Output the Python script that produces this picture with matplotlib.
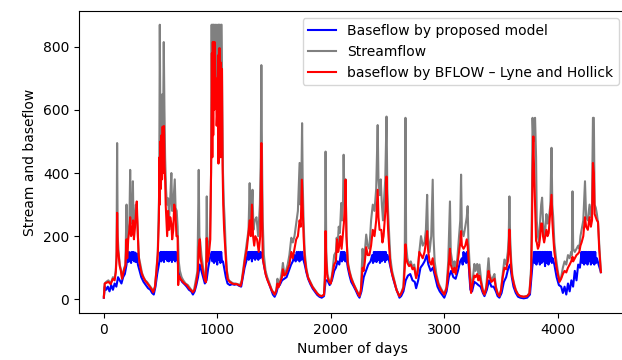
import matplotlib
matplotlib.use("Agg")
import matplotlib.pyplot as plt

# (day, value) pairs
streamflow = [
    (0, 10), (8, 50), (20, 55), (40, 60), (60, 50), (80, 70), (95, 65), (105, 90),
    (112, 150), (117, 495), (122, 200), (130, 150), (140, 110), (150, 95), (160, 70),
    (170, 85), (180, 100), (190, 110), (200, 300), (206, 150), (215, 210), (225, 240),
    (232, 410), (238, 240), (248, 260), (256, 374), (262, 230), (272, 250), (282, 300),
    (290, 280), (300, 200), (310, 130), (322, 110), (335, 85), (350, 70), (365, 60),
    (380, 55), (400, 45), (420, 35), (435, 25), (450, 40), (463, 90), (475, 150),
    (488, 350), (493, 870), (498, 550), (504, 600), (510, 500), (516, 650), (522, 550),
    (528, 815), (534, 600), (540, 450), (548, 350), (556, 300), (566, 320), (575, 260),
    (585, 320), (595, 400), (602, 280), (612, 300), (625, 380), (632, 290), (642, 280),
    (650, 230), (660, 120), (670, 90), (685, 70), (700, 60), (720, 50), (740, 45),
    (760, 35), (780, 25), (795, 30), (810, 60), (825, 90), (836, 410), (842, 200),
    (850, 180), (860, 140), (875, 100), (890, 70), (900, 60), (907, 326), (912, 150),
    (922, 160), (935, 200), (945, 400), (950, 870), (954, 600), (958, 870), (962, 700),
    (966, 870), (972, 870), (978, 750), (984, 870), (990, 650), (996, 870), (1002, 700),
    (1008, 870), (1014, 870), (1020, 870), (1026, 650), (1032, 870), (1038, 870),
    (1044, 600), (1050, 400), (1058, 300), (1065, 250), (1075, 150), (1085, 90),
    (1100, 60), (1120, 55), (1140, 50), (1160, 50), (1180, 48), (1200, 45), (1215, 60),
    (1230, 100), (1245, 140), (1260, 180), (1275, 220), (1285, 368), (1292, 240),
    (1300, 260), (1310, 347), (1318, 220), (1330, 250), (1345, 260), (1360, 200),
    (1375, 300), (1383, 450), (1388, 742), (1393, 480), (1400, 250), (1410, 140),
    (1425, 90), (1440, 70), (1460, 50), (1480, 30), (1505, 15), (1520, 30), (1530, 65),
    (1540, 40), (1555, 60), (1570, 90), (1578, 115), (1590, 80), (1605, 90), (1620, 110),
    (1635, 140), (1652, 195), (1665, 180), (1680, 200), (1695, 240), (1710, 280),
    (1725, 432), (1732, 300), (1740, 350), (1747, 558), (1752, 380), (1760, 250),
    (1770, 150), (1784, 100), (1800, 70), (1820, 55), (1840, 40), (1860, 30), (1880, 20),
    (1900, 12), (1920, 10), (1940, 15), (1948, 80), (1954, 468), (1960, 150), (1970, 80),
    (1985, 60), (2000, 50), (2015, 90), (2030, 140), (2045, 150), (2052, 195), (2060, 170),
    (2070, 230), (2080, 210), (2092, 305), (2100, 250), (2107, 300), (2113, 458),
    (2120, 320), (2130, 380), (2138, 200), (2150, 120), (2165, 90), (2180, 70), (2200, 50),
    (2220, 35), (2240, 20), (2253, 10), (2265, 30), (2280, 160), (2290, 100), (2300, 150),
    (2312, 205), (2325, 170), (2340, 160), (2355, 250), (2370, 300), (2385, 280),
    (2400, 350), (2413, 552), (2420, 380), (2430, 330), (2440, 380), (2450, 300),
    (2460, 250), (2470, 320), (2480, 380), (2491, 579), (2498, 350), (2505, 280),
    (2515, 200), (2525, 130), (2540, 90), (2560, 60), (2580, 30), (2605, 10), (2620, 20),
    (2640, 40), (2652, 150), (2658, 575), (2664, 170), (2675, 130), (2690, 110),
    (2705, 120), (2720, 100), (2735, 110), (2752, 70), (2765, 90), (2780, 150),
    (2795, 200), (2810, 170), (2826, 180), (2838, 220), (2849, 331), (2856, 200),
    (2870, 150), (2885, 200), (2898, 379), (2905, 200), (2915, 120), (2930, 80),
    (2950, 50), (2970, 35), (3000, 15), (3020, 40), (3035, 120), (3050, 310), (3057, 150),
    (3070, 120), (3080, 100), (3090, 120), (3100, 90), (3115, 130), (3130, 200),
    (3141, 250), (3148, 395), (3155, 220), (3170, 200), (3185, 230), (3198, 260),
    (3206, 295), (3213, 180), (3225, 100), (3236, 40), (3250, 60), (3265, 112), (3275, 90),
    (3290, 112), (3300, 80), (3310, 110), (3325, 60), (3340, 30), (3354, 15), (3370, 40),
    (3390, 130), (3400, 80), (3415, 60), (3430, 70), (3442, 80), (3455, 40), (3470, 20),
    (3486, 10), (3500, 30), (3515, 80), (3530, 126), (3545, 110), (3560, 150), (3568, 200),
    (3574, 326), (3580, 200), (3590, 120), (3600, 75), (3615, 50), (3630, 30), (3650, 15),
    (3670, 10), (3700, 8), (3730, 10), (3750, 20), (3765, 100), (3772, 300), (3778, 575),
    (3785, 500), (3792, 560), (3800, 575), (3809, 450), (3815, 250), (3825, 200),
    (3835, 180), (3845, 250), (3854, 300), (3862, 322), (3870, 250), (3880, 200),
    (3890, 220), (3900, 270), (3910, 240), (3920, 250), (3935, 300), (3945, 480),
    (3952, 300), (3960, 260), (3970, 180), (3985, 130), (4000, 90), (4015, 60), (4030, 70),
    (4045, 100), (4060, 120), (4075, 110), (4090, 140), (4105, 130), (4118, 150),
    (4124, 140), (4130, 342), (4136, 160), (4150, 150), (4165, 160), (4180, 170),
    (4190, 160), (4200, 200), (4210, 220), (4225, 250), (4240, 374), (4250, 260),
    (4265, 250), (4280, 300), (4292, 260), (4302, 300), (4310, 575), (4318, 575),
    (4325, 300), (4335, 290), (4345, 270), (4355, 240), (4365, 180), (4380, 86),
]

baseflow_bflow = [
    (0, 5), (8, 50), (20, 52), (40, 55), (60, 48), (80, 65), (95, 60), (105, 85),
    (112, 130), (117, 274), (123, 160), (130, 140), (140, 105), (150, 90), (160, 65),
    (170, 80), (180, 95), (190, 105), (200, 190), (206, 130), (215, 190), (225, 220),
    (232, 260), (240, 200), (250, 210), (258, 250), (265, 190), (275, 230), (285, 280),
    (290, 310), (298, 220), (305, 150), (312, 120), (322, 100), (335, 80), (350, 68),
    (365, 58), (380, 52), (400, 42), (420, 32), (435, 22), (450, 38), (463, 88),
    (475, 140), (485, 250), (490, 450), (494, 300), (498, 500), (503, 350), (508, 520),
    (513, 380), (518, 547), (523, 400), (530, 549), (535, 420), (540, 380), (545, 300),
    (550, 260), (558, 200), (566, 280), (575, 220), (585, 260), (595, 240), (602, 190),
    (612, 220), (620, 300), (630, 280), (640, 200), (650, 200), (655, 45), (662, 75),
    (675, 65), (690, 58), (710, 50), (730, 45), (750, 35), (770, 28), (785, 22), (800, 30),
    (815, 55), (828, 85), (836, 164), (845, 190), (852, 130), (862, 110), (875, 85),
    (890, 60), (900, 54), (907, 194), (913, 120), (925, 140), (938, 190), (948, 500),
    (952, 780), (956, 450), (960, 815), (964, 520), (968, 815), (972, 600), (977, 815),
    (982, 650), (988, 700), (994, 550), (1000, 600), (1006, 773), (1010, 430),
    (1015, 795), (1019, 500), (1023, 795), (1028, 450), (1032, 750), (1036, 500),
    (1041, 730), (1046, 425), (1052, 300), (1060, 220), (1068, 170), (1075, 130),
    (1080, 100), (1090, 65), (1110, 55), (1130, 50), (1150, 48), (1170, 48), (1190, 45),
    (1205, 42), (1215, 55), (1230, 90), (1245, 130), (1260, 160), (1272, 200), (1285, 250),
    (1295, 200), (1305, 300), (1315, 200), (1325, 170), (1335, 200), (1350, 190),
    (1365, 150), (1378, 200), (1388, 495), (1395, 300), (1400, 130), (1410, 110),
    (1425, 80), (1440, 62), (1460, 45), (1480, 28), (1505, 15), (1520, 28), (1530, 50),
    (1540, 38), (1555, 55), (1570, 70), (1578, 95), (1590, 75), (1605, 80), (1620, 95),
    (1635, 110), (1652, 150), (1665, 130), (1680, 160), (1695, 190), (1710, 200),
    (1725, 250), (1735, 230), (1745, 379), (1752, 300), (1760, 200), (1770, 130),
    (1784, 92), (1800, 68), (1820, 52), (1840, 38), (1860, 28), (1880, 18), (1900, 12),
    (1920, 10), (1940, 14), (1948, 60), (1954, 216), (1960, 120), (1970, 70), (1985, 55),
    (2000, 50), (2015, 80), (2030, 110), (2045, 120), (2055, 190), (2065, 150),
    (2075, 170), (2085, 200), (2095, 160), (2105, 200), (2115, 240), (2125, 300),
    (2130, 379), (2138, 200), (2150, 110), (2165, 85), (2180, 65), (2200, 48), (2220, 32),
    (2240, 18), (2253, 10), (2265, 28), (2280, 100), (2290, 90), (2300, 120), (2312, 165),
    (2325, 140), (2340, 140), (2355, 170), (2370, 220), (2385, 200), (2400, 250),
    (2413, 347), (2420, 260), (2430, 220), (2445, 220), (2455, 180), (2465, 200),
    (2475, 250), (2485, 300), (2491, 389), (2498, 290), (2505, 220), (2515, 160),
    (2525, 110), (2540, 80), (2560, 55), (2580, 28), (2605, 10), (2620, 18), (2640, 35),
    (2652, 100), (2658, 174), (2664, 130), (2675, 115), (2690, 105), (2705, 110),
    (2720, 95), (2735, 100), (2752, 67), (2765, 85), (2780, 150), (2795, 140), (2810, 130),
    (2826, 150), (2838, 180), (2849, 216), (2856, 160), (2870, 120), (2885, 110),
    (2898, 130), (2905, 110), (2915, 90), (2930, 70), (2950, 45), (2970, 30), (3000, 15),
    (3020, 35), (3035, 90), (3050, 160), (3057, 110), (3070, 95), (3080, 85), (3090, 100),
    (3100, 80), (3115, 110), (3130, 150), (3141, 180), (3148, 216), (3155, 170),
    (3170, 160), (3185, 170), (3198, 190), (3206, 170), (3213, 130), (3225, 70), (3236, 20),
    (3250, 50), (3265, 75), (3275, 70), (3290, 80), (3300, 60), (3310, 75), (3325, 50),
    (3340, 25), (3354, 15), (3370, 35), (3390, 90), (3400, 70), (3415, 55), (3430, 60),
    (3442, 65), (3455, 35), (3470, 18), (3486, 10), (3500, 28), (3515, 70), (3530, 100),
    (3545, 95), (3560, 120), (3568, 160), (3574, 221), (3580, 160), (3590, 100), (3600, 70),
    (3615, 45), (3630, 28), (3650, 15), (3670, 10), (3700, 8), (3730, 10), (3750, 18),
    (3765, 80), (3772, 200), (3778, 400), (3785, 516), (3792, 400), (3800, 300),
    (3809, 185), (3815, 180), (3825, 160), (3835, 170), (3845, 200), (3854, 240),
    (3862, 240), (3870, 200), (3880, 180), (3890, 200), (3900, 220), (3910, 200),
    (3920, 210), (3935, 280), (3945, 331), (3952, 250), (3960, 200), (3970, 150),
    (3985, 110), (4000, 80), (4015, 55), (4030, 65), (4045, 80), (4060, 90), (4075, 85),
    (4090, 100), (4105, 110), (4118, 120), (4130, 135), (4136, 120), (4150, 130),
    (4165, 140), (4180, 145), (4190, 150), (4200, 170), (4210, 180), (4225, 200),
    (4240, 260), (4250, 230), (4265, 220), (4280, 260), (4292, 230), (4302, 250),
    (4310, 432), (4318, 400), (4325, 270), (4335, 260), (4345, 250), (4355, 245),
    (4365, 160), (4380, 86),
]

baseflow_proposed = [
    (0, 5), (8, 40), (20, 30), (35, 40), (50, 25), (65, 45), (80, 30), (95, 50), (110, 40),
    (125, 70), (140, 60), (155, 50), (170, 70), (185, 80), (200, 110), (207, 150),
    (213, 118), (220, 150), (226, 120), (233, 148), (240, 115), (247, 150), (254, 125),
    (261, 150), (268, 120), (275, 148), (282, 118), (290, 145), (300, 110), (315, 90),
    (330, 70), (350, 55), (370, 45), (390, 35), (410, 30), (425, 20), (440, 15), (455, 40),
    (470, 80), (485, 110), (500, 150), (506, 120), (512, 150), (518, 125), (524, 150),
    (530, 118), (537, 150), (544, 128), (551, 150), (558, 122), (565, 150), (572, 120),
    (579, 150), (586, 125), (593, 150), (600, 118), (607, 150), (614, 125), (621, 150),
    (628, 120), (635, 150), (642, 125), (648, 130), (660, 90), (675, 65), (690, 55),
    (710, 48), (730, 40), (750, 30), (770, 25), (785, 15), (800, 25), (815, 45), (830, 70),
    (845, 110), (860, 90), (875, 70), (890, 50), (905, 60), (920, 100), (935, 130),
    (950, 150), (957, 120), (964, 150), (971, 115), (978, 150), (985, 120), (992, 150),
    (999, 110), (1006, 150), (1013, 125), (1020, 150), (1027, 115), (1034, 150),
    (1041, 120), (1050, 120), (1060, 100), (1075, 70), (1090, 50), (1110, 45), (1130, 48),
    (1150, 46), (1170, 48), (1190, 43), (1210, 40), (1225, 70), (1240, 100), (1255, 120),
    (1270, 150), (1277, 125), (1284, 150), (1291, 130), (1298, 150), (1305, 120),
    (1312, 150), (1319, 130), (1326, 150), (1333, 125), (1340, 150), (1347, 130),
    (1354, 150), (1361, 125), (1368, 150), (1375, 130), (1382, 150), (1390, 135),
    (1400, 130), (1415, 100), (1430, 75), (1450, 55), (1470, 35), (1490, 15), (1505, 8),
    (1520, 20), (1535, 40), (1550, 45), (1570, 60), (1590, 65), (1610, 70), (1630, 90),
    (1650, 110), (1665, 120), (1680, 140), (1690, 120), (1700, 150), (1708, 125),
    (1716, 150), (1724, 120), (1732, 150), (1740, 125), (1748, 150), (1755, 130),
    (1770, 110), (1785, 85), (1800, 65), (1820, 48), (1840, 34), (1860, 24), (1880, 14),
    (1900, 8), (1920, 5), (1940, 10), (1955, 60), (1970, 60), (1990, 45), (2010, 60),
    (2030, 90), (2045, 100), (2060, 120), (2075, 110), (2090, 150), (2098, 120),
    (2105, 150), (2112, 125), (2120, 150), (2128, 120), (2135, 140), (2150, 100),
    (2165, 75), (2180, 55), (2200, 42), (2220, 28), (2240, 12), (2253, 5), (2270, 25),
    (2290, 70), (2310, 90), (2330, 110), (2350, 120), (2365, 140), (2372, 115),
    (2380, 150), (2388, 120), (2395, 150), (2403, 118), (2410, 150), (2418, 125),
    (2425, 150), (2433, 115), (2440, 150), (2448, 120), (2455, 150), (2463, 125),
    (2470, 150), (2478, 118), (2485, 150), (2492, 125), (2500, 140), (2515, 120),
    (2530, 95), (2550, 65), (2570, 40), (2590, 20), (2605, 5), (2620, 10), (2640, 25),
    (2660, 60), (2680, 75), (2700, 80), (2720, 60), (2740, 55), (2752, 35), (2770, 60),
    (2790, 100), (2810, 110), (2826, 120), (2845, 140), (2860, 110), (2880, 90),
    (2900, 100), (2920, 70), (2940, 40), (2960, 25), (2980, 15), (3000, 5), (3020, 25),
    (3040, 70), (3060, 90), (3080, 70), (3100, 65), (3120, 90), (3140, 120), (3155, 130),
    (3162, 110), (3170, 150), (3178, 120), (3185, 145), (3193, 115), (3200, 150),
    (3215, 110), (3230, 30), (3245, 25), (3265, 55), (3285, 50), (3300, 45), (3320, 40),
    (3340, 20), (3354, 10), (3375, 30), (3395, 60), (3415, 40), (3435, 40), (3455, 25),
    (3470, 10), (3486, 5), (3505, 20), (3525, 55), (3545, 70), (3565, 100), (3580, 110),
    (3595, 70), (3610, 40), (3630, 20), (3650, 8), (3670, 5), (3700, 3), (3730, 5),
    (3755, 15), (3775, 100), (3790, 150), (3797, 115), (3805, 150), (3812, 110),
    (3820, 150), (3828, 120), (3835, 150), (3842, 110), (3850, 150), (3858, 115),
    (3865, 150), (3872, 120), (3880, 150), (3888, 105), (3895, 150), (3903, 115),
    (3910, 150), (3918, 110), (3925, 150), (3933, 120), (3940, 150), (3948, 115),
    (3955, 130), (3970, 110), (3990, 70), (4010, 45), (4030, 40), (4045, 20), (4060, 40),
    (4075, 15), (4090, 50), (4105, 25), (4120, 60), (4135, 40), (4150, 90), (4165, 60),
    (4180, 110), (4195, 100), (4210, 150), (4217, 115), (4225, 150), (4232, 110),
    (4240, 150), (4247, 115), (4255, 150), (4262, 110), (4270, 150), (4277, 120),
    (4285, 150), (4292, 110), (4300, 150), (4307, 115), (4315, 150), (4322, 110),
    (4330, 150), (4337, 115), (4345, 130), (4360, 110), (4380, 86),
]

fig = plt.figure(figsize=(6.22, 3.6), dpi=100)
ax = fig.add_axes([0.127, 0.131, 0.879, 0.838])

for series, color, label in [
    (baseflow_proposed, "blue", "Baseflow by proposed model"),
    (streamflow, "grey", "Streamflow"),
    (baseflow_bflow, "red", "baseflow by BFLOW \u2013 Lyne and Hollick"),
]:
    days, values = zip(*series)
    ax.plot(days, values, color=color, linewidth=1.5, label=label)

ax.set_xlim(-219, 4599)
ax.set_ylim(-43, 913)
ax.set_xticks([0, 1000, 2000, 3000, 4000])
ax.set_yticks([0, 200, 400, 600, 800])
ax.set_xlabel("Number of days")
ax.set_ylabel("Stream and baseflow")
ax.legend(loc="upper right")

fig.savefig("out.png", dpi=100)
